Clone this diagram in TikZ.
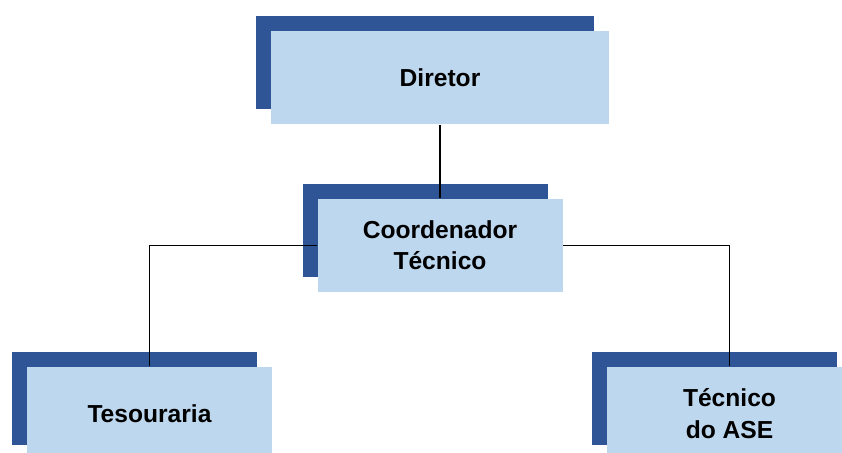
\documentclass[tikz,border=0pt]{standalone}
\usepackage{fontspec}
\setmainfont{Liberation Sans}
\usetikzlibrary{shadows}

\definecolor{boxfill}{HTML}{BDD7EE}
\definecolor{boxshade}{HTML}{2F5597}

\begin{document}
\begin{tikzpicture}[
  unit/.style={
    rectangle,
    fill=boxfill,
    minimum width=4.9cm,
    minimum height=1.87cm,
    inner sep=0pt,
    align=center,
    font=\fontsize{14}{17.8}\selectfont\bfseries,
    general shadow={fill=boxshade, shadow xshift=-0.3cm, shadow yshift=0.3cm}
  },
  link/.style={
    line width=0.7pt
  }
]

\path[use as bounding box] (0,0) rectangle (16.84,-9.04);
\node[unit, minimum width=6.76cm] (dir) at (8.80,-1.55) {Diretor};
\node[unit] (coord) at (8.80,-4.91) {Coordenador\\Técnico};
\node[unit] (tes) at (2.99,-8.27) {Tesouraria};
\node[unit] (ase) at (14.59,-8.27) {Técnico\\do ASE};

\draw[link] (dir) -- (coord);
\draw[link] (coord.west) -| (tes.north);
\draw[link] (coord.east) -| (ase.north);

\end{tikzpicture}
\end{document}
